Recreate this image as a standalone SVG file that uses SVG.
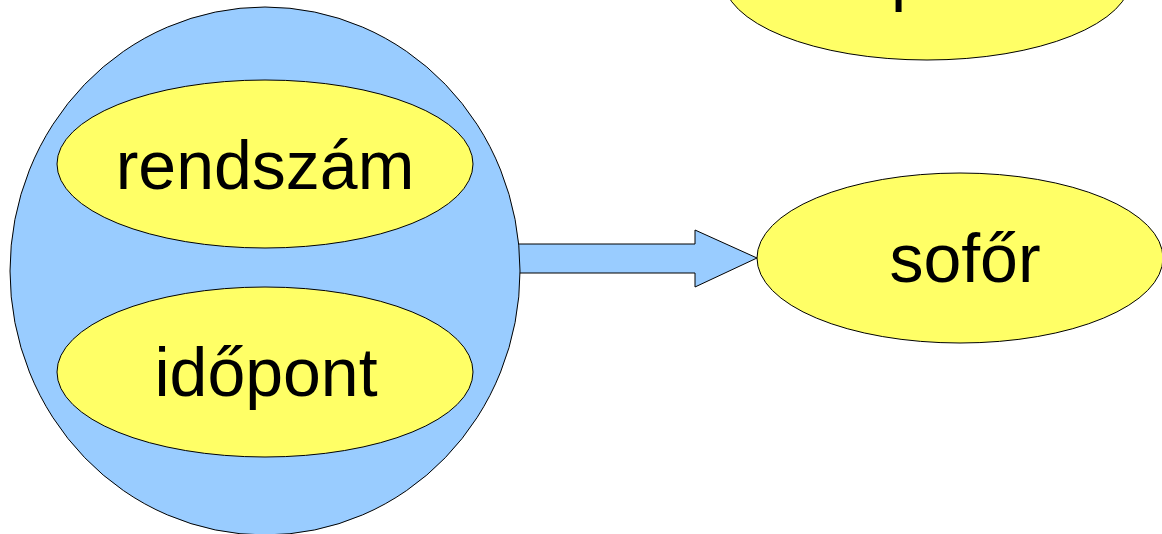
<svg xmlns="http://www.w3.org/2000/svg" width="1162" height="534" viewBox="0 0 1162 534">
<style>
.blue{fill:#99ccff;stroke:#000;stroke-width:1}
.yellow{fill:#ffff66;stroke:#000;stroke-width:1}
.lbl{font-family:"Liberation Sans",Arial,sans-serif;font-size:68px;fill:#000;text-anchor:middle}
</style>
<rect width="1162" height="534" fill="#fff"/>
<g id="connectors">
<polygon class="blue" points="505,244 695,244 695,230 757,258 695,287 695,273 505,273"/>
</g>
<g id="key">
<ellipse class="blue" cx="265" cy="271" rx="255" ry="264"/>
</g>
<g id="rendszam">
<ellipse class="yellow" cx="265" cy="164" rx="208" ry="84"/>
<text class="lbl" x="265" y="189">rendszám</text>
</g>
<g id="idopont">
<ellipse class="yellow" cx="265" cy="372" rx="208" ry="85"/>
<text class="lbl" x="266" y="396">időpont</text>
</g>
<g id="sofor">
<ellipse class="yellow" cx="960" cy="258" rx="203" ry="85"/>
<text class="lbl" x="965" y="282">sofőr</text>
</g>
<g id="top">
<ellipse class="yellow" cx="927" cy="-22" rx="204" ry="82"/>
<text class="lbl" x="927" y="-2">típus</text>
</g>
</svg>
